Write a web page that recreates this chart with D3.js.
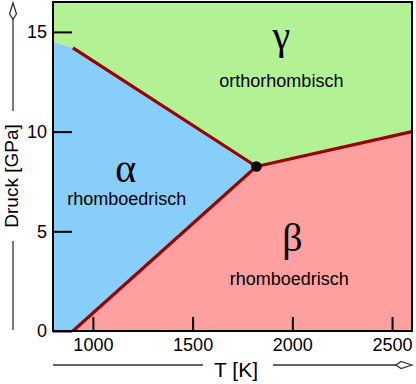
<!DOCTYPE html>
<html>
<head>
<meta charset="utf-8">
<script src="https://cdn.jsdelivr.net/npm/d3@7"></script>
<style>
  body { margin: 0; background: #fff; }
  svg { display: block; }
  .tick text { font-family: "Liberation Sans", Arial, sans-serif; font-size: 18px; fill: #000; }
</style>
</head>
<body>
<div id="chart"></div>
<script>
// tick values
const tempTicks = [1000, 1500, 2000, 2500];
const pressTicks = [0, 5, 10, 15];

// phase boundaries [T (K), P (GPa)]
const triplePoint = [1820, 8.25];
const alphaGammaLine = [[900, 14.2], [1820, 8.25]];
const alphaBetaLine = [[900, 0], [1820, 8.25]];
const betaGammaLine = [[1820, 8.25], [2600, 10.0]];

// phase regions
const alphaRegion = [[800, 0], [900, 0], [1820, 8.25], [900, 14.2], [800, 14.5]];
const betaRegion = [[900, 0], [2600, 0], [2600, 10.0], [1820, 8.25]];
const gammaRegion = [[800, 14.5], [900, 14.2], [1820, 8.25], [2600, 10.0], [2600, 16.5], [800, 16.5]];

// labels
const phaseNames = ["α", "β", "γ"];
const phaseStructs = ["rhomboedrisch", "rhomboedrisch", "orthorhombisch"];
const greekAt = [[1165, 7.47], [2000, 4.01], [1945, 14.14]];
const structAt = [[1170, 6.32], [1985, 2.31], [1945, 12.24]];

const W = 416, H = 384;
const margin = {top: 2, right: 4, bottom: 53, left: 53};
const width = W - margin.left - margin.right,
      height = H - margin.top - margin.bottom;

const svg = d3.select("#chart").append("svg")
  .attr("width", W)
  .attr("height", H);

const g = svg.append("g")
  .attr("transform", "translate(" + margin.left + "," + margin.top + ")");

const x = d3.scaleLinear().domain([800, 2600]).range([0, width]);
const y = d3.scaleLinear().domain([0, 16.5]).range([height, 0]);

const area = d3.line().x(d => x(d[0])).y(d => y(d[1]));

// regions
g.append("path").attr("d", area(gammaRegion) + "Z").attr("fill", "#b3f195");
g.append("path").attr("d", area(alphaRegion) + "Z").attr("fill", "#87cefa");
g.append("path").attr("d", area(betaRegion) + "Z").attr("fill", "#ffa0a0");

// boundaries
[alphaGammaLine, alphaBetaLine, betaGammaLine].forEach(l => {
  g.append("path")
    .attr("d", area(l))
    .attr("fill", "none")
    .attr("stroke", "#990000")
    .attr("stroke-width", 3.2)
    .attr("stroke-linecap", "butt");
});

g.append("circle")
  .attr("cx", x(triplePoint[0]))
  .attr("cy", y(triplePoint[1]))
  .attr("r", 5.3)
  .attr("fill", "#000");

// phase labels
phaseNames.forEach((n, i) => {
  g.append("text")
    .attr("x", x(greekAt[i][0]))
    .attr("y", y(greekAt[i][1]))
    .attr("text-anchor", "middle")
    .style("font-family", "'Liberation Serif', 'Times New Roman', serif")
    .style("font-size", "40px")
    .text(n);
  g.append("text")
    .attr("x", x(structAt[i][0]))
    .attr("y", y(structAt[i][1]))
    .attr("text-anchor", "middle")
    .style("font-family", "'Liberation Sans', Arial, sans-serif")
    .style("font-size", "18px")
    .text(phaseStructs[i]);
});

// axes, ticks pointing inward
const xAxis = g.append("g")
  .attr("transform", "translate(0," + height + ")")
  .call(d3.axisBottom(x).tickValues(tempTicks).tickSize(-14).tickPadding(7).tickFormat(d3.format("d")));
const yAxis = g.append("g")
  .call(d3.axisLeft(y).tickValues(pressTicks).tickSize(-19).tickPadding(6));
[xAxis, yAxis].forEach(a => {
  a.select(".domain").remove();
  a.selectAll(".tick line").attr("stroke", "#000").attr("stroke-width", 2);
});

// frame
g.append("rect")
  .attr("width", width).attr("height", height)
  .attr("fill", "none")
  .attr("stroke", "#000")
  .attr("stroke-width", 2);

// axis titles with arrow lines
function kite(cx, cy, dir) {
  // open diamond arrowhead, tip at (cx,cy)
  const len = 16, back = 5, half = 3.5;
  if (dir === "up") {
    return [[cx, cy], [cx + half, cy + len - back], [cx, cy + len], [cx - half, cy + len - back]];
  }
  return [[cx, cy], [cx - len + back, cy - half], [cx - len, cy], [cx - len + back, cy + half]];
}
const lineStyle = s => s.attr("stroke", "#333").attr("stroke-width", 1.3).attr("fill", "none");

// x title
svg.append("text")
  .attr("x", 236).attr("y", 377)
  .attr("text-anchor", "middle")
  .style("font-family", "'Liberation Sans', Arial, sans-serif")
  .style("font-size", "21px")
  .text("T [K]");
svg.append("line").attr("x1", 53).attr("x2", 203).attr("y1", 365).attr("y2", 365).call(lineStyle);
svg.append("line").attr("x1", 273).attr("x2", 396).attr("y1", 365).attr("y2", 365).call(lineStyle);
svg.append("polygon").attr("points", kite(412, 365, "right").join(" ")).call(lineStyle).attr("fill", "#fff");

// y title
svg.append("text")
  .attr("transform", "translate(18,176) rotate(-90)")
  .attr("text-anchor", "middle")
  .style("font-family", "'Liberation Sans', Arial, sans-serif")
  .style("font-size", "19px")
  .text("Druck [GPa]");
svg.append("line").attr("x1", 13).attr("x2", 13).attr("y1", 330).attr("y2", 241).call(lineStyle);
svg.append("line").attr("x1", 13).attr("x2", 13).attr("y1", 111).attr("y2", 19).call(lineStyle);
svg.append("polygon").attr("points", kite(13, 3, "up").join(" ")).call(lineStyle).attr("fill", "#fff");
</script>
</body>
</html>
